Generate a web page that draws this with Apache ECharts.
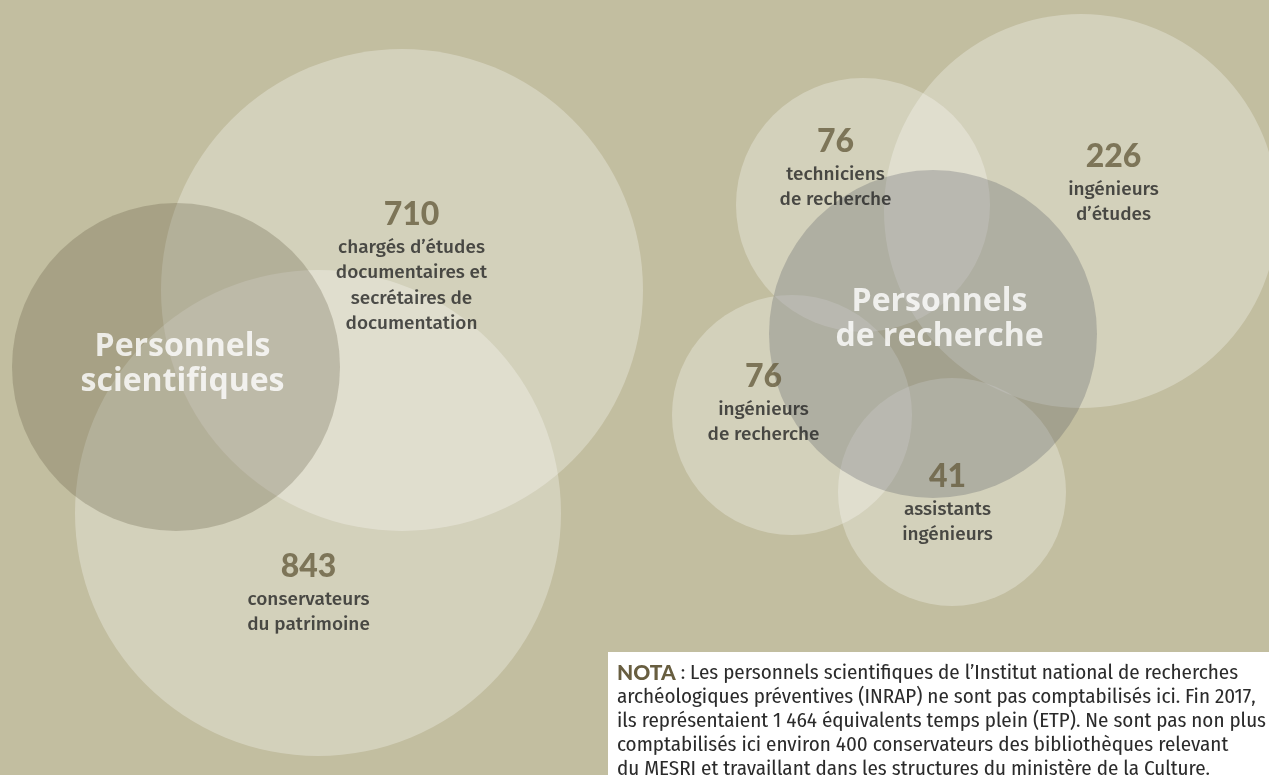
<!DOCTYPE html>
<html>
<head>
<meta charset="utf-8">
<script src="https://cdn.jsdelivr.net/npm/echarts@6/dist/echarts.min.js"></script>
<style>
  html, body { margin: 0; padding: 0; background: #c2bea0; }
  #chart { width: 1269px; height: 775px; }
</style>
</head>
<body>
<div id="chart"></div>
<script>
// cercles : centre (x, y) et rayon, en pixels de la maquette
var circleNames = ['chargés d’études', 'conservateurs', 'techniciens', 'ingénieurs d’études', 'ingénieurs de recherche', 'assistants ingénieurs', 'Personnels scientifiques', 'Personnels de recherche'];
var circleX = [402, 318, 863, 1081, 792, 952, 176, 933];
var circleY = [290, 513, 205, 211, 415, 492, 367, 334];
var circleR = [241, 243, 127, 197, 120, 114, 164, 164];
var circleKind = ['light', 'light', 'light', 'light', 'light', 'light', 'darkOlive', 'darkGrey'];

// effectifs et libellés
var labelNum = ['710', '843', '76', '226', '76', '41'];
var labelText = [
  ['chargés d’études', 'documentaires et', 'secrétaires de', 'documentation'],
  ['conservateurs', 'du patrimoine'],
  ['techniciens', 'de recherche'],
  ['ingénieurs', 'd’études'],
  ['ingénieurs', 'de recherche'],
  ['assistants', 'ingénieurs']
];
var labelX = [412, 309, 836, 1114, 764, 948];
var labelY = [195, 547, 122, 137, 357, 457];

// titres des deux groupes
var groupText = [['Personnels', 'scientifiques'], ['Personnels', 'de recherche']];
var groupX = [183, 940];
var groupY = [330, 285];

var noteLines = [
  ' : Les personnels scientifiques de l’Institut national de recherches',
  'archéologiques préventives (INRAP) ne sont pas comptabilisés ici. Fin 2017,',
  'ils représentaient 1 464 équivalents temps plein (ETP). Ne sont pas non plus',
  'comptabilisés ici environ 400 conservateurs des bibliothèques relevant',
  'du MESRI et travaillant dans les structures du ministère de la Culture.'
];

var fills = {
  light: 'rgba(255,255,255,0.36)',
  darkOlive: 'rgba(81,76,49,0.30)',
  darkGrey: 'rgba(77,81,91,0.33)'
};

var numFont = 'Lato, "Noto Sans", sans-serif';
var titleFont = '"Open Sans", "Noto Sans", sans-serif';
var txtFont = '"Fira Sans", "Noto Sans", sans-serif';
var noteFont = '"Fira Sans Condensed", "Liberation Sans Narrow", "DejaVu Sans Condensed", sans-serif';

var lightData = [], darkData = [];
circleNames.forEach(function (n, i) {
  var d = {
    name: n,
    value: [circleX[i], circleY[i]],
    symbolSize: circleR[i] * 2,
    itemStyle: { color: fills[circleKind[i]] }
  };
  if (circleKind[i] === 'light') lightData.push(d); else darkData.push(d);
});

var labelData = labelNum.map(function (n, i) {
  return {
    value: [labelX[i], labelY[i]],
    label: {
      formatter: '{n|' + n + '}\n' + labelText[i].map(function (t) { return '{t|' + t + '}'; }).join('\n')
    }
  };
});

var groupData = groupText.map(function (g, i) {
  return {
    value: [groupX[i], groupY[i]],
    label: { formatter: g.map(function (t) { return '{g|' + t + '}'; }).join('\n') }
  };
});

var myChart = echarts.init(document.getElementById('chart'));

var option = {
  backgroundColor: '#c2bea0',
  animation: false,
  grid: { left: 0, right: 0, top: 0, bottom: 0 },
  xAxis: { type: 'value', min: 0, max: 1269, show: false },
  yAxis: { type: 'value', min: 0, max: 775, inverse: true, show: false },
  series: [
    {
      type: 'scatter',
      data: lightData,
      silent: true,
      z: 1
    },
    {
      type: 'scatter',
      data: darkData,
      silent: true,
      z: 2
    },
    {
      type: 'scatter',
      data: labelData,
      symbolSize: 1,
      itemStyle: { color: 'transparent' },
      silent: true,
      z: 3,
      label: {
        show: true,
        position: [0, 0],
        align: 'center',
        verticalAlign: 'top',
        rich: {
          n: { fontFamily: numFont, fontWeight: 900, fontSize: 32, color: '#685e40', lineHeight: 40, align: 'center' },
          t: { fontFamily: txtFont, fontWeight: 500, fontSize: 19, color: '#262626', lineHeight: 25.5, align: 'center' }
        }
      }
    },
    {
      type: 'scatter',
      data: groupData,
      symbolSize: 1,
      itemStyle: { color: 'transparent' },
      silent: true,
      z: 4,
      label: {
        show: true,
        position: [0, 0],
        align: 'center',
        verticalAlign: 'top',
        rich: {
          g: { fontFamily: titleFont, fontWeight: 'bold', fontSize: 32, color: '#ffffff', lineHeight: 35, align: 'center' }
        }
      }
    }
  ],
  graphic: [
    {
      type: 'rect',
      shape: { x: 608, y: 652, width: 661, height: 123 },
      style: { fill: '#ffffff' },
      z: 10
    },
    {
      type: 'text',
      x: 617,
      y: 661,
      z: 11,
      style: {
        text: '{b|NOTA}{r|' + noteLines[0] + '}\n' + noteLines.slice(1).map(function (l) { return '{r|' + l + '}'; }).join('\n'),
        rich: {
          b: { fontFamily: numFont, fontWeight: 900, fontSize: 21, fill: '#685e40', lineHeight: 24 },
          r: { fontFamily: noteFont, fontSize: 21, fill: '#2b2b2b', lineHeight: 24 }
        }
      }
    }
  ]
};

myChart.setOption(option);
</script>
</body>
</html>
